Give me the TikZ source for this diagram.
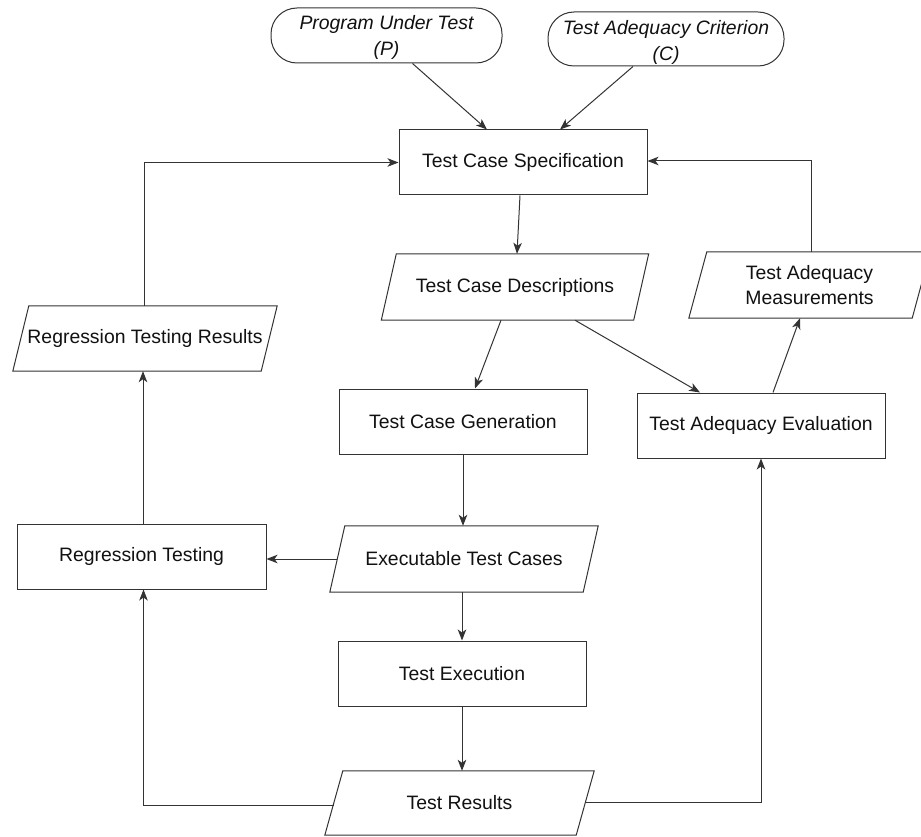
\documentclass[tikz,border=0pt]{standalone}
\usepackage{fontspec}
\setmainfont{Liberation Sans}
\usetikzlibrary{arrows.meta,calc}
\definecolor{lc}{HTML}{333333}
\definecolor{tc}{HTML}{111111}
\tikzset{
  base/.style={inner sep=0pt, align=center, text=tc, font=\fontsize{19.4}{25}\selectfont},
  box/.style={base, draw=lc, line width=1pt, minimum width=248pt, minimum height=65pt},
  term/.style={base, draw=lc, line width=1pt, rounded corners=26pt},
  termtext/.style={base, font=\fontsize{19.4}{26}\selectfont\itshape},
  pbody/.style={base},
  conn/.style={draw=lc, line width=1pt, -{Stealth[length=11pt,width=8.5pt,inset=3pt]}},
  plain/.style={draw=lc, line width=1pt},
}
\newcommand\drawpara[2]{\draw[plain] ([xshift=#2]#1.north west) -- ([xshift=#2]#1.north east) -- ([xshift=-#2]#1.south east) -- ([xshift=-#2]#1.south west) -- cycle;}
\begin{document}
\begin{tikzpicture}[x=1pt,y=-1pt]
\clip (0,0) rectangle (921,837);
\fill[white] (0,0) rectangle (921,837);
% terminals
\node[term, minimum width=231pt, minimum height=55pt] (p) at (386.5,35.5) {};
\node[termtext] (ptext) at ([yshift=-2pt]p.center) {Program Under Test\\(P)};
\node[term, minimum width=236pt, minimum height=54pt] (c) at (666,39) {};
\node[termtext] (ctext) at ([yshift=-3pt]c.center) {Test Adequacy Criterion\\(C)};
% process boxes
\node[box] (tcs) at (523,162.5) {Test Case Specification};
\node[box] (tcg) at (463,421.5) {Test Case Generation};
\node[box] (tae) at (761,425.5) {Test Adequacy Evaluation};
\node[box, minimum width=249pt] (rt) at (141.5,556.5) {Regression Testing};
\node[box] (te) at (462,673.5) {Test Execution};
% data (parallelograms)
\node[pbody, minimum width=252pt, minimum height=66pt] (tcd) at (515,287) {Test Case Descriptions};
\drawpara{tcd}{7.5pt}
\node[pbody, minimum width=223pt, minimum height=66pt] (tam) at (809.5,285) {Test Adequacy\\Measurements};
\drawpara{tam}{9pt}
\node[pbody, minimum width=248pt, minimum height=65pt] (rtr) at (145,338.5) {Regression Testing Results};
\drawpara{rtr}{8pt}
\node[pbody, minimum width=253pt, minimum height=66pt] (etc) at (464,559) {Executable Test Cases};
\drawpara{etc}{7.5pt}
\node[pbody, minimum width=251pt, minimum height=64pt] (tr) at (459.5,803) {Test Results};
\drawpara{tr}{9pt}
% connectors
\draw[conn] ([xshift=26pt]p.south) -- ([xshift=-36pt]tcs.north);
\draw[conn] ([xshift=-33pt]c.south) -- ([xshift=37pt]tcs.north);
\draw[conn] ([xshift=-3pt]tcs.south) -- ([xshift=2pt]tcd.north);
\draw[conn] ([xshift=-14pt]tcd.south) -- ([xshift=12pt]tcg.north);
\draw[conn] ([xshift=60pt]tcd.south) -- ([xshift=-61pt]tae.north);
\draw[conn] ([xshift=12pt]tae.north) -- ([xshift=-9.5pt]tam.south);
\draw[conn] ([xshift=1.5pt]tam.north) |- ([yshift=1.5pt]tcs.east);
\draw[conn] ([xshift=-1pt]rtr.north) |- (tcs.west);
\draw[conn] ([xshift=1.5pt]rt.north) -- ([xshift=1.5pt]rt.north |- rtr.south);
\draw[conn] (tcg.south) -- (tcg.south |- etc.north);
\draw[conn] (etc.west) -- (etc.west -| rt.east);
\draw[conn] (te.north |- etc.south) -- (te.north);
\draw[conn] (te.south) -- (te.south |- tr.north);
\draw[conn] ([yshift=-2pt]tr.west) -| ([xshift=2pt]rt.south);
\draw[conn] ([yshift=1pt]tr.east) -| (tae.south);
\end{tikzpicture}
\end{document}
